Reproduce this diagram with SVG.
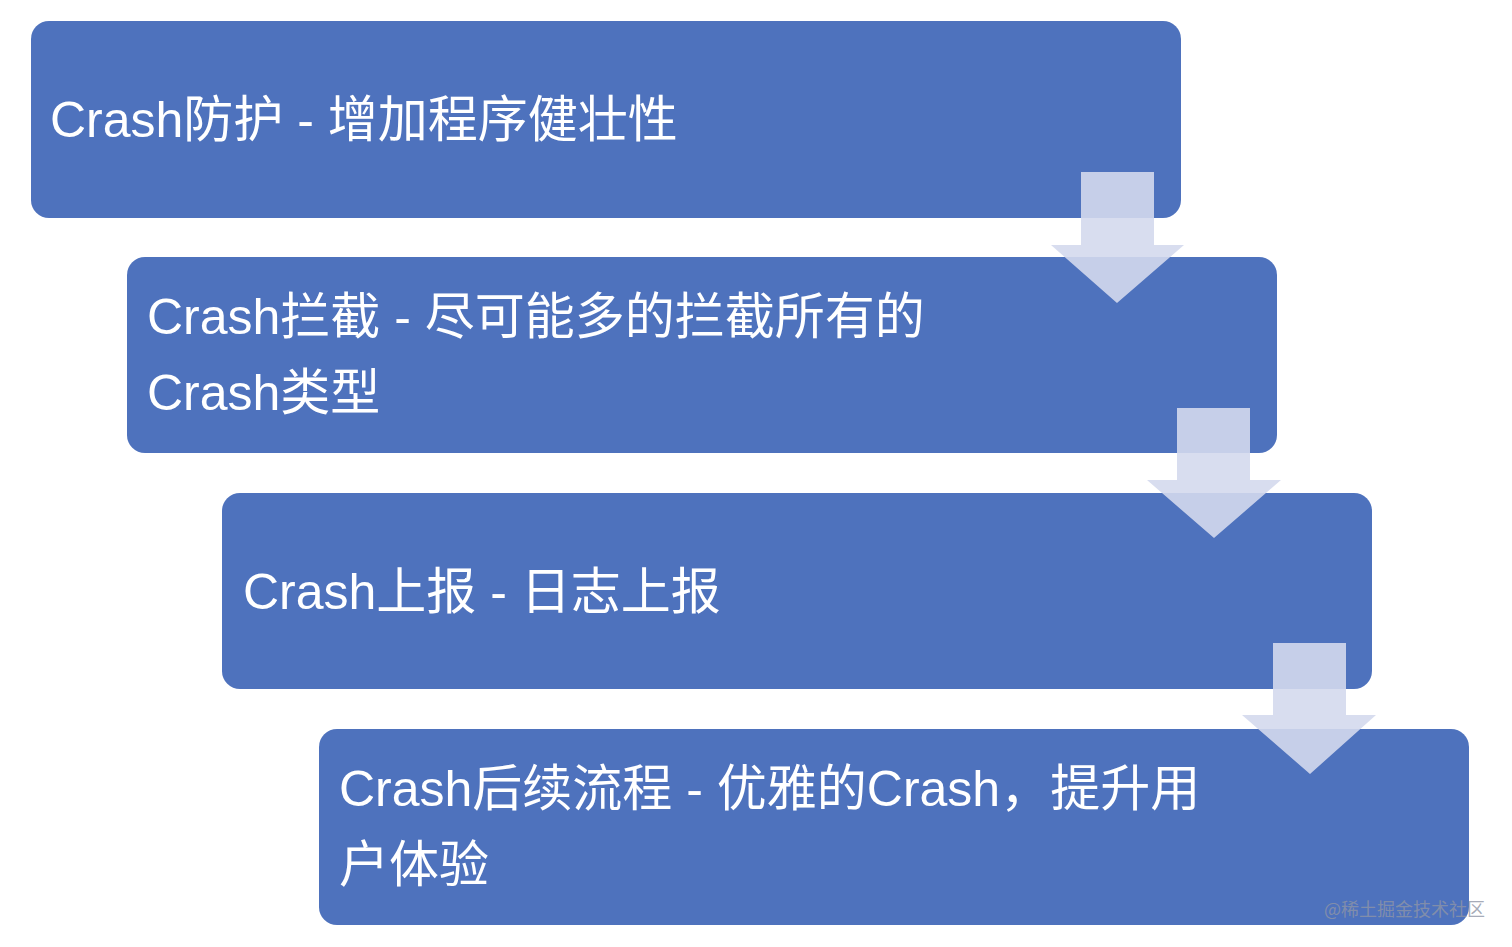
<svg xmlns="http://www.w3.org/2000/svg" width="1512" height="947" viewBox="0 0 1512 947">
<style>
.box{fill:#4e72bd}
.t{font-family:"Liberation Sans","Noto Sans CJK SC",sans-serif;font-size:50px;fill:#ffffff}
.arr{fill:#d4d9ed;fill-opacity:0.9}
.wm{font-family:"Noto Sans CJK SC",sans-serif;font-size:18px;fill:#8f95a6;fill-opacity:0.8}
</style>
<rect width="1512" height="947" fill="#ffffff"/>
<g id="node1"><rect class="box" x="31" y="21" width="1150" height="197" rx="18"/><text class="t" x="50" y="137">Crash防护 - 增加程序健壮性</text></g>
<g id="node2"><rect class="box" x="127" y="257" width="1150" height="196" rx="18"/><text class="t" x="147" y="334">Crash拦截 - 尽可能多的拦截所有的</text><text class="t" x="147" y="410">Crash类型</text></g>
<g id="node3"><rect class="box" x="222" y="493" width="1150" height="196" rx="18"/><text class="t" x="243" y="609">Crash上报 - 日志上报</text></g>
<g id="node4"><rect class="box" x="319" y="729" width="1150" height="196" rx="18"/><text class="t" x="339" y="806">Crash后续流程 - 优雅的Crash，提升用</text><text class="t" x="339" y="882">户体验</text></g>
<g id="connectors">
<polygon class="arr" points="1081,172 1154,172 1154,245 1184,245 1117,303 1051,245 1081,245"/>
<polygon class="arr" points="1177,408 1250,408 1250,480 1281,480 1214,538 1147,480 1177,480"/>
<polygon class="arr" points="1273,643 1346,643 1346,715 1376,715 1310,774 1242,715 1273,715"/>
</g>
<text class="wm" x="1324" y="916">@稀土掘金技术社区</text>
</svg>
